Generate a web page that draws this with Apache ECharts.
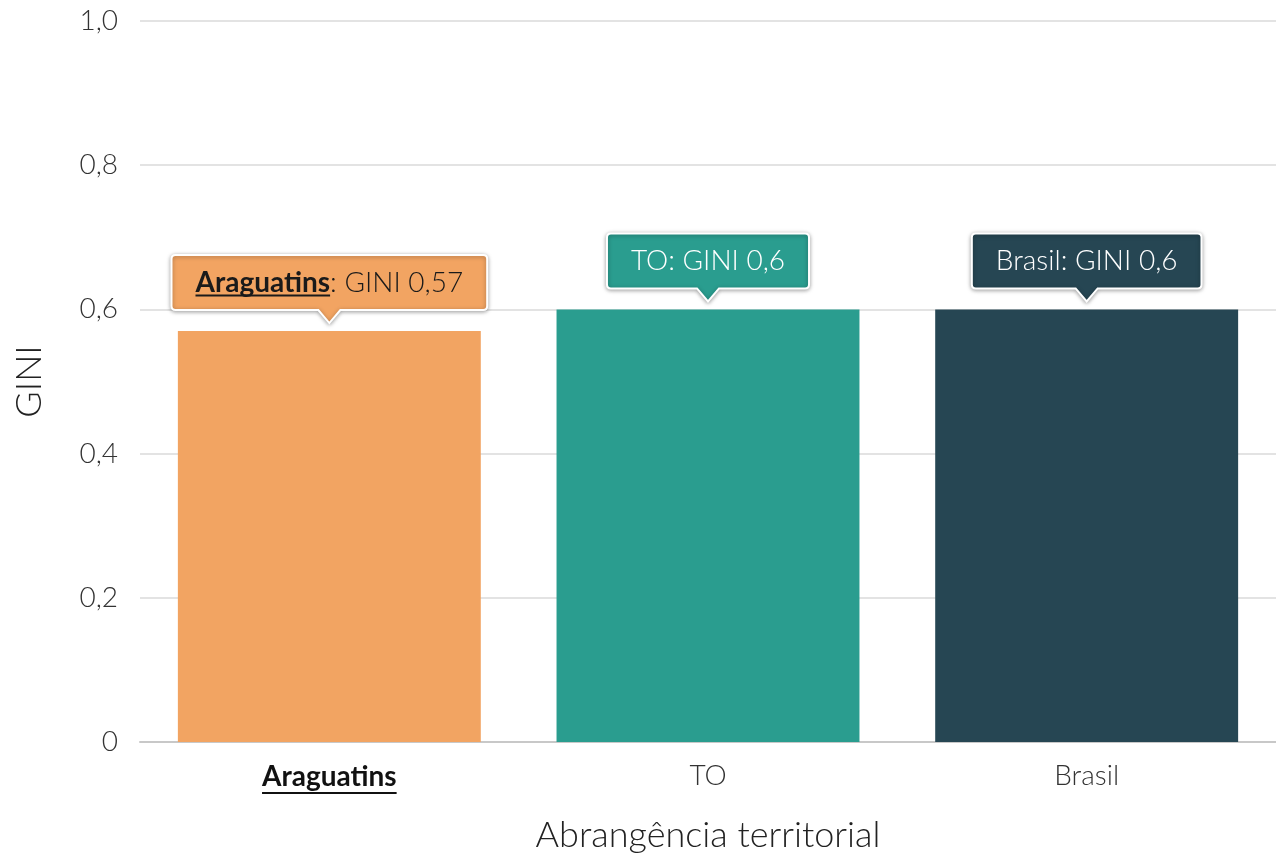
<!DOCTYPE html>
<html>
<head>
<meta charset="utf-8">
<script src="https://cdn.jsdelivr.net/npm/echarts@6/dist/echarts.min.js"></script>
<style>
  html, body { margin: 0; padding: 0; background: #fff; }
  #chart { width: 1276px; height: 859px; }
</style>
</head>
<body>
<div id="chart"></div>
<script>
// dados
const categories = ['Araguatins', 'TO', 'Brasil']
const giniValues = [0.57, 0.6, 0.6]
const highlighted = 'Araguatins'

const barColors = ['#F2A462', '#2A9D8F', '#264653']
const labelColors = ['#1a1a1a', '#ffffff', '#ffffff']
const FONT = 'Lato'

// medir texto (para a caixa do balão e o sublinhado)
const ctx = document.createElement('canvas').getContext('2d')
function textWidth(str, weight, size) {
    ctx.font = weight + ' ' + size + 'px ' + FONT
    return ctx.measureText(str).width
}

function fmt(v) {
    return String(v).replace('.', ',')
}

const chart = echarts.init(document.getElementById('chart'))

const LABEL_SIZE = 28
const AXIS_SIZE = 28
const hlWidth = textWidth(highlighted, 'bold', AXIS_SIZE)

chart.setOption({
    animation: false,
    grid: { left: 140, right: 0, top: 21, bottom: 117 },
    xAxis: {
        type: 'category',
        data: categories,
        name: 'Abrangência territorial',
        nameLocation: 'middle',
        nameGap: 75,
        nameTextStyle: { fontFamily: FONT, fontWeight: 300, fontSize: 36, color: '#222' },
        axisTick: { show: false },
        axisLine: { lineStyle: { color: '#c8c8c8', width: 2 } },
        axisLabel: {
            margin: 20,
            fontFamily: FONT,
            fontWeight: 300,
            fontSize: AXIS_SIZE,
            color: '#333',
            formatter: function(value) {
                if (value === highlighted) {
                    return '{b|' + value + '}\n{u|}'
                }
                return value
            },
            rich: {
                b: { fontFamily: FONT, fontWeight: 'bold', fontSize: AXIS_SIZE, color: '#111', lineHeight: 30 },
                u: { width: hlWidth, height: 2, lineHeight: 2, backgroundColor: '#111' }
            }
        }
    },
    yAxis: {
        type: 'value',
        min: 0,
        max: 1,
        interval: 0.2,
        name: 'GINI',
        nameLocation: 'middle',
        nameGap: 93,
        nameTextStyle: { fontFamily: FONT, fontWeight: 300, fontSize: 36, color: '#222' },
        axisLabel: {
            margin: 22,
            fontFamily: FONT,
            fontWeight: 300,
            fontSize: AXIS_SIZE,
            color: '#333',
            formatter: function(v) {
                return v === 0 ? '0' : v.toFixed(1).replace('.', ',')
            }
        },
        splitLine: { lineStyle: { color: '#e3e3e3', width: 2 } }
    },
    series: [
        {
            type: 'bar',
            barCategoryGap: '20%',
            data: giniValues.map(function(v, i) {
                return { value: v, itemStyle: { color: barColors[i] } }
            }),
            z: 1
        },
        {
            // balões com o valor
            type: 'custom',
            z: 5,
            data: giniValues.map(function(v, i) { return [i, v] }),
            renderItem: function(params, api) {
                const i = api.value(0)
                const pt = api.coord([i, api.value(1)])
                const name = categories[i]
                const rest = ': GINI ' + fmt(api.value(1))
                const isHl = name === highlighted
                const wName = textWidth(name, isHl ? 'bold' : '300', LABEL_SIZE)
                const wRest = textWidth(rest, '300', LABEL_SIZE)
                const tw = wName + wRest
                const boxW = tw + 48
                const boxH = 55
                const tipY = pt[1] - 8
                const bottom = tipY - 13
                const top = bottom - boxH
                const cx = pt[0]
                const left = cx - boxW / 2
                const right = cx + boxW / 2
                const r = 4
                const aw = 11
                const path = [
                    'M', left + r, top,
                    'L', right - r, top,
                    'Q', right, top, right, top + r,
                    'L', right, bottom - r,
                    'Q', right, bottom, right - r, bottom,
                    'L', cx + aw, bottom,
                    'L', cx, tipY,
                    'L', cx - aw, bottom,
                    'L', left + r, bottom,
                    'Q', left, bottom, left, bottom - r,
                    'L', left, top + r,
                    'Q', left, top, left + r, top,
                    'Z'
                ].join(' ')
                const color = labelColors[i]
                const children = [
                    {
                        type: 'path',
                        shape: { pathData: path },
                        style: {
                            fill: barColors[i],
                            stroke: '#fff',
                            lineWidth: 2,
                            shadowBlur: 4,
                            shadowOffsetY: 1,
                            shadowColor: 'rgba(0,0,0,0.35)'
                        }
                    },
                    {
                        type: 'text',
                        style: {
                            text: (isHl ? '{b|' + name + '}' : name) + rest,
                            x: cx - tw / 2,
                            y: (top + bottom) / 2,
                            align: 'left',
                            verticalAlign: 'middle',
                            fill: color,
                            fontFamily: FONT,
                            fontWeight: 300,
                            fontSize: LABEL_SIZE,
                            rich: {
                                b: { fontFamily: FONT, fontWeight: 'bold', fontSize: LABEL_SIZE, fill: color }
                            }
                        }
                    }
                ]
                if (isHl) {
                    children.push({
                        type: 'rect',
                        shape: { x: cx - tw / 2, y: (top + bottom) / 2 + 12, width: wName, height: 2 },
                        style: { fill: color }
                    })
                }
                return { type: 'group', children: children }
            }
        }
    ]
})
</script>
</body>
</html>
